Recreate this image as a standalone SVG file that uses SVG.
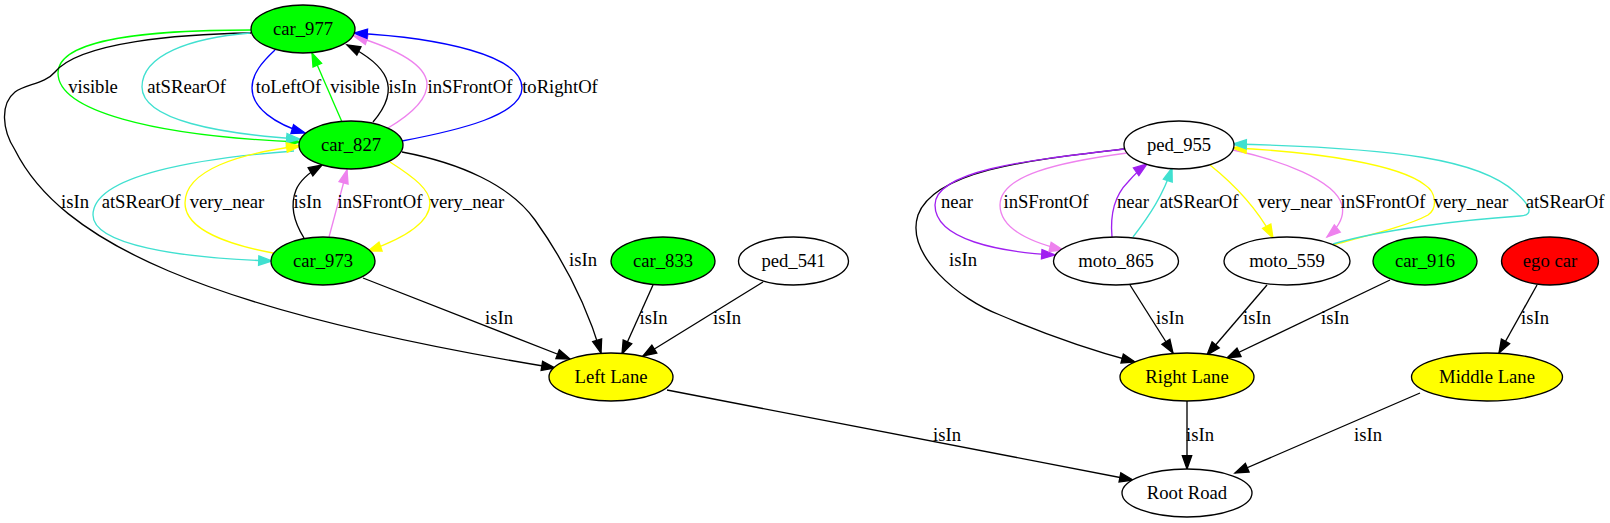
<svg xmlns="http://www.w3.org/2000/svg" width="1610" height="523" viewBox="0 0 1610 523">
<style>
text{font-family:"Liberation Serif","Times New Roman",serif;font-size:18.67px;text-anchor:middle;fill:#000}
.n{stroke:#000;stroke-width:1.33}
.g{fill:#00ff00}.w{fill:#fff}.y{fill:#ffff00}.r{fill:#ff0000}
.e{fill:none;stroke-width:1.33}
.k{stroke:#000}.gr{stroke:#00ff00}.bl{stroke:#0000ff}.vi{stroke:#ee82ee}.tq{stroke:#40e0d0}.ye{stroke:#ffff00}.pu{stroke:#a020f0}
.k{marker-end:url(#ak)}.gr{marker-end:url(#agr)}.bl{marker-end:url(#abl)}.vi{marker-end:url(#avi)}.tq{marker-end:url(#atq)}.ye{marker-end:url(#aye)}.pu{marker-end:url(#apu)}
</style>
<defs>
<marker id="ak" markerUnits="userSpaceOnUse" markerWidth="16" markerHeight="12" viewBox="-1 -1 16 12" refX="13.3" refY="5" orient="auto" overflow="visible"><path d="M0,0.33 L13.3,5 L0,9.67 z" fill="#000" stroke="#000" stroke-width="1.33"/></marker>
<marker id="agr" markerUnits="userSpaceOnUse" markerWidth="16" markerHeight="12" viewBox="-1 -1 16 12" refX="13.3" refY="5" orient="auto" overflow="visible"><path d="M0,0.33 L13.3,5 L0,9.67 z" fill="#00ff00" stroke="#00ff00" stroke-width="1.33"/></marker>
<marker id="abl" markerUnits="userSpaceOnUse" markerWidth="16" markerHeight="12" viewBox="-1 -1 16 12" refX="13.3" refY="5" orient="auto" overflow="visible"><path d="M0,0.33 L13.3,5 L0,9.67 z" fill="#0000ff" stroke="#0000ff" stroke-width="1.33"/></marker>
<marker id="avi" markerUnits="userSpaceOnUse" markerWidth="16" markerHeight="12" viewBox="-1 -1 16 12" refX="13.3" refY="5" orient="auto" overflow="visible"><path d="M0,0.33 L13.3,5 L0,9.67 z" fill="#ee82ee" stroke="#ee82ee" stroke-width="1.33"/></marker>
<marker id="atq" markerUnits="userSpaceOnUse" markerWidth="16" markerHeight="12" viewBox="-1 -1 16 12" refX="13.3" refY="5" orient="auto" overflow="visible"><path d="M0,0.33 L13.3,5 L0,9.67 z" fill="#40e0d0" stroke="#40e0d0" stroke-width="1.33"/></marker>
<marker id="aye" markerUnits="userSpaceOnUse" markerWidth="16" markerHeight="12" viewBox="-1 -1 16 12" refX="13.3" refY="5" orient="auto" overflow="visible"><path d="M0,0.33 L13.3,5 L0,9.67 z" fill="#ffff00" stroke="#ffff00" stroke-width="1.33"/></marker>
<marker id="apu" markerUnits="userSpaceOnUse" markerWidth="16" markerHeight="12" viewBox="-1 -1 16 12" refX="13.3" refY="5" orient="auto" overflow="visible"><path d="M0,0.33 L13.3,5 L0,9.67 z" fill="#a020f0" stroke="#a020f0" stroke-width="1.33"/></marker>
</defs>
<rect width="1610" height="523" fill="#fff"/>
<g id="edges">
<path class="e gr" d="M251,30 C150,30 58,38 58,73 C58,110 150,136 300,142"/>
<path class="e k" d="M251,33 C180,34 80,42 55,72 C45,84 25,84 15,92 C0,104 2,130 15,150 C60,240 200,310 555,368"/>
<path class="e tq" d="M250,33 C190,38 142,55 142,87 C142,120 220,134 300,139"/>
<path class="e bl" d="M275,50 C262,62 252,74 252,88 C252,108 275,124 305,133"/>
<path class="e gr" d="M342,122 L312,53"/>
<path class="e k" d="M373,122 C385,108 392,92 386,78 C380,64 365,54 347,45"/>
<path class="e vi" d="M388,128 C410,115 428,100 427,83 C425,62 390,47 354,36"/>
<path class="e bl" d="M402,141 C460,130 522,115 522,88 C522,55 440,38 354,33"/>
<path class="e tq" d="M294,151 C200,158 93,175 93,215 C93,245 180,258 272,261"/>
<path class="e ye" d="M273,253 C230,245 185,230 185,203 C185,170 240,153 300,146"/>
<path class="e k" d="M304,238 C294,222 290,205 296,190 C300,180 310,172 322,165"/>
<path class="e vi" d="M329,237 L347,170"/>
<path class="e ye" d="M390,162 C415,178 430,190 430,203 C430,222 405,238 368,251"/>
<path class="e k" d="M402,152 C460,163 510,185 535,220 C560,255 585,300 601,353"/>
<path class="e k" d="M363,278 L570,359"/>
<path class="e k" d="M653,285 L622,354"/>
<path class="e k" d="M763,282 L643,356"/>
<path class="e k" d="M667,390 L1133,480"/>
<path class="e k" d="M1124,149 C1030,160 935,170 918,215 C905,255 960,300 1000,315 C1040,332 1090,350 1135,362"/>
<path class="e pu" d="M1124,149 C1030,160 935,170 935,205 C935,240 1000,252 1055,255"/>
<path class="e vi" d="M1127,153 C1060,162 1000,175 1000,205 C1000,228 1030,242 1063,250"/>
<path class="e pu" d="M1112,237 C1110,215 1115,195 1128,182 C1134,175 1140,169 1147,164"/>
<path class="e tq" d="M1133,237 C1150,215 1163,195 1172,168"/>
<path class="e ye" d="M1210,165 C1235,185 1258,210 1273,238"/>
<path class="e vi" d="M1233,150 C1280,160 1335,180 1342,205 C1345,218 1338,228 1327,237"/>
<path class="e ye" d="M1333,245 C1370,235 1410,225 1428,215 C1438,208 1436,192 1425,185 C1400,165 1320,152 1233,148"/>
<path class="e tq" d="M1333,244 C1380,230 1460,220 1520,216 C1535,215 1530,205 1515,192 C1480,160 1400,148 1233,144"/>
<path class="e k" d="M1130,285 L1173,353"/>
<path class="e k" d="M1267,285 L1207,355"/>
<path class="e k" d="M1390,280 L1227,358"/>
<path class="e k" d="M1537,285 L1499,353"/>
<path class="e k" d="M1187,401 L1187,469"/>
<path class="e k" d="M1420,393 L1235,473"/>
<text x="93" y="92.6">visible</text>
<text x="186.5" y="92.6">atSRearOf</text>
<text x="288.5" y="92.6">toLeftOf</text>
<text x="355" y="92.6">visible</text>
<text x="402.5" y="92.6">isIn</text>
<text x="470" y="92.6">inSFrontOf</text>
<text x="560" y="92.6">toRightOf</text>
<text x="75" y="207.6">isIn</text>
<text x="141" y="207.6">atSRearOf</text>
<text x="227" y="207.6">very_near</text>
<text x="307.5" y="207.6">isIn</text>
<text x="380" y="207.6">inSFrontOf</text>
<text x="467" y="207.6">very_near</text>
<text x="957" y="207.6">near</text>
<text x="1046" y="207.6">inSFrontOf</text>
<text x="1133" y="207.6">near</text>
<text x="1199" y="207.6">atSRearOf</text>
<text x="1295" y="207.6">very_near</text>
<text x="1383" y="207.6">inSFrontOf</text>
<text x="1471" y="207.6">very_near</text>
<text x="1565" y="207.6">atSRearOf</text>
<text x="583" y="266.3">isIn</text>
<text x="963" y="265.6">isIn</text>
<text x="499" y="323.6">isIn</text>
<text x="653.5" y="323.6">isIn</text>
<text x="727" y="323.6">isIn</text>
<text x="1170" y="323.6">isIn</text>
<text x="1257" y="323.6">isIn</text>
<text x="1335" y="323.6">isIn</text>
<text x="1535" y="323.6">isIn</text>
<text x="947" y="440.6">isIn</text>
<text x="1200" y="440.6">isIn</text>
<text x="1368" y="440.6">isIn</text>
</g>
<g id="car_977"><ellipse class="n g" cx="303" cy="29" rx="52" ry="24"/><text x="303" y="34.6">car_977</text></g>
<g id="car_827"><ellipse class="n g" cx="351" cy="145" rx="52" ry="24"/><text x="351" y="150.6">car_827</text></g>
<g id="car_973"><ellipse class="n g" cx="323" cy="261" rx="52" ry="24"/><text x="323" y="266.6">car_973</text></g>
<g id="car_833"><ellipse class="n g" cx="663" cy="261" rx="52" ry="24"/><text x="663" y="266.6">car_833</text></g>
<g id="ped_541"><ellipse class="n w" cx="793.5" cy="261" rx="55" ry="24"/><text x="793.5" y="266.6">ped_541</text></g>
<g id="left_lane"><ellipse class="n y" cx="611" cy="377" rx="62" ry="24"/><text x="611" y="382.6">Left Lane</text></g>
<g id="ped_955"><ellipse class="n w" cx="1179" cy="145" rx="55" ry="24"/><text x="1179" y="150.6">ped_955</text></g>
<g id="moto_865"><ellipse class="n w" cx="1116" cy="261" rx="62.5" ry="24"/><text x="1116" y="266.6">moto_865</text></g>
<g id="moto_559"><ellipse class="n w" cx="1287" cy="261" rx="63" ry="24"/><text x="1287" y="266.6">moto_559</text></g>
<g id="car_916"><ellipse class="n g" cx="1425" cy="261" rx="52" ry="24"/><text x="1425" y="266.6">car_916</text></g>
<g id="ego_car"><ellipse class="n r" cx="1550" cy="261" rx="48.5" ry="24"/><text x="1550" y="266.6">ego car</text></g>
<g id="right_lane"><ellipse class="n y" cx="1187" cy="377" rx="67" ry="24"/><text x="1187" y="382.6">Right Lane</text></g>
<g id="middle_lane"><ellipse class="n y" cx="1487" cy="377" rx="75.5" ry="24"/><text x="1487" y="382.6">Middle Lane</text></g>
<g id="root_road"><ellipse class="n w" cx="1187" cy="493" rx="65" ry="24"/><text x="1187" y="498.6">Root Road</text></g>
</svg>
